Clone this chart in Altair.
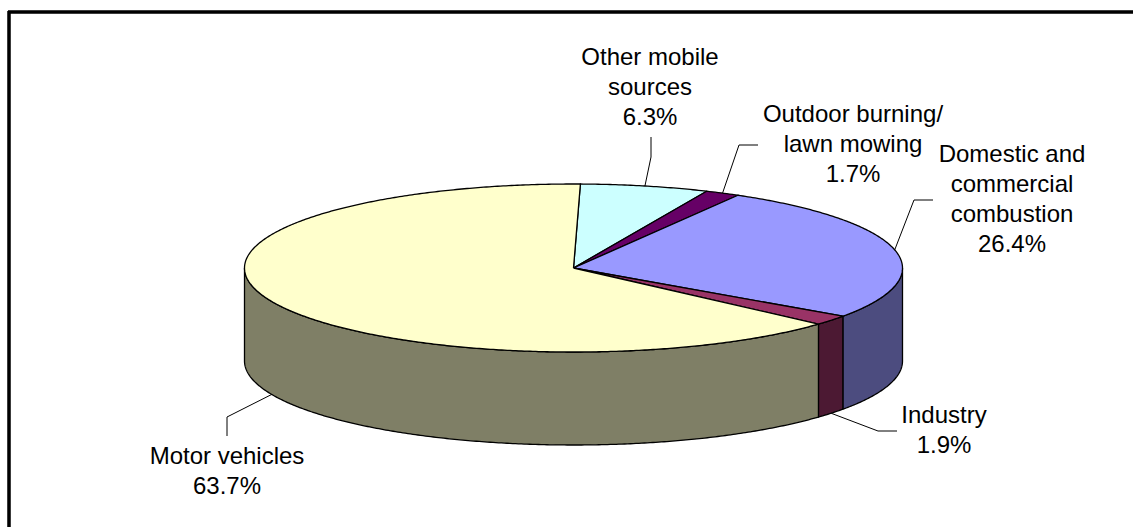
import numpy as np
import pandas as pd
import altair as alt

# ---------------- data ----------------
categories = [
    "Other mobile sources",
    "Outdoor burning/ lawn mowing",
    "Domestic and commercial combustion",
    "Industry",
    "Motor vehicles",
]
shares = [6.3, 1.7, 26.4, 1.9, 63.7]
label_lines = [
    ["Other mobile", "sources"],
    ["Outdoor burning/", "lawn mowing"],
    ["Domestic and", "commercial", "combustion"],
    ["Industry"],
    ["Motor vehicles"],
]

# ---------------- styles / layout ----------------
top_colors = ["#CCFFFF", "#660066", "#9999FF", "#993366", "#FFFFCC"]
side_colors = ["#668080", "#330033", "#4C4C7F", "#4C1933", "#7F7F66"]

W, H = 1133, 527
CX, CY, RX, RY, DEPTH = 573.5, 268, 329, 84, 93
ROT = 1.2  # degrees, clockwise from 12 o'clock

# label anchor (centre x, first baseline y) and leader elbow / end
label_pos = [(650, 65), (853, 122), (1012, 162), (944, 423), (227, 464)]
leader_elbow = [(651, 157), (739, 145), (914, 200), (878, 431), (227, 417)]
leader_end = [(651, 137), (758, 145), (933, 200), (897, 431), (227, 436)]


def rim(t_deg, drop=0.0):
    t = np.radians(t_deg)
    return CX + RX * np.sin(t), CY - RY * np.cos(t) + drop


cum = np.concatenate([[0], np.cumsum(shares)])
starts = ROT + 360 * cum[:-1] / 100
ends = ROT + 360 * cum[1:] / 100

top_rows, side_rows = [], []
for i, cat in enumerate(categories):
    a0, a1 = starts[i], ends[i]
    # top face
    n = max(4, int((a1 - a0) * 2))
    ang = np.linspace(a0, a1, n)
    pts = [(CX, CY)] + [rim(a) for a in ang] + [(CX, CY)]
    for k, (x, y) in enumerate(pts):
        top_rows.append({"poly": f"top{i}", "order": k, "x": x, "y": y,
                         "fill": top_colors[i]})
    # visible outer wall (front half)
    for lo_v, hi_v in [(90, 270), (450, 630)]:
        lo, hi = max(a0, lo_v), min(a1, hi_v)
        if hi <= lo:
            continue
        n = max(4, int((hi - lo) * 2))
        ang = np.linspace(lo, hi, n)
        pts = [rim(a) for a in ang] + [rim(a, DEPTH) for a in ang[::-1]]
        pts.append(pts[0])
        for k, (x, y) in enumerate(pts):
            side_rows.append({"poly": f"side{i}_{lo_v}", "order": k, "x": x,
                              "y": y, "fill": side_colors[i]})

top_df = pd.DataFrame(top_rows)
side_df = pd.DataFrame(side_rows)

# leaders and labels
leader_rows, label_rows = [], []
for i, cat in enumerate(categories):
    mid = (starts[i] + ends[i]) / 2
    drop = 0 if np.cos(np.radians(mid)) >= 0 else DEPTH
    ax, ay = rim(mid, drop)
    for k, (x, y) in enumerate([(ax, ay), leader_elbow[i], leader_end[i]]):
        leader_rows.append({"lid": i, "order": k, "x": x, "y": y})
    text = "\n".join(label_lines[i] + [f"{shares[i]:.1f}%"])
    label_rows.append({"x": label_pos[i][0], "y": label_pos[i][1], "text": text})

leader_df = pd.DataFrame(leader_rows)
label_df = pd.DataFrame(label_rows)

xs = alt.Scale(domain=[0, W], nice=False, zero=False)
ys = alt.Scale(domain=[0, H], nice=False, zero=False, reverse=True)
X = alt.X("x:Q", scale=xs, axis=None)
Y = alt.Y("y:Q", scale=ys, axis=None)

sides = alt.Chart(side_df).mark_line(strokeWidth=1.3, stroke="black", strokeJoin="round").encode(
    x=X, y=Y, detail="poly:N", order="order:Q",
    fill=alt.Fill("fill:N", scale=None),
)
tops = alt.Chart(top_df).mark_line(strokeWidth=1.3, stroke="black", strokeJoin="round").encode(
    x=X, y=Y, detail="poly:N", order="order:Q",
    fill=alt.Fill("fill:N", scale=None),
)
leaders = alt.Chart(leader_df).mark_line(strokeWidth=1, color="black").encode(
    x=X, y=Y, detail="lid:N", order="order:Q",
)
labels = alt.Chart(label_df).mark_text(
    font="Liberation Sans", fontSize=24, lineHeight=30, align="center",
    baseline="alphabetic", lineBreak="\n", color="black",
).encode(x=X, y=Y, text="text:N")

frame_top = alt.Chart(label_df).mark_rule(color="black", strokeWidth=2.5).encode(
    x=alt.value(8), x2=alt.value(W), y=alt.value(12)
)
frame_left = alt.Chart(label_df).mark_rule(color="black", strokeWidth=2.5).encode(
    x=alt.value(9), y=alt.value(11), y2=alt.value(H)
)

chart = alt.layer(sides, tops, leaders, labels, frame_top, frame_left).properties(
    width=W, height=H, padding=0, autosize=alt.AutoSizeParams(type="none"),
    background="white",
).configure_view(stroke=None)

chart.save("out.html", embed_options={"renderer": "svg", "actions": False})
